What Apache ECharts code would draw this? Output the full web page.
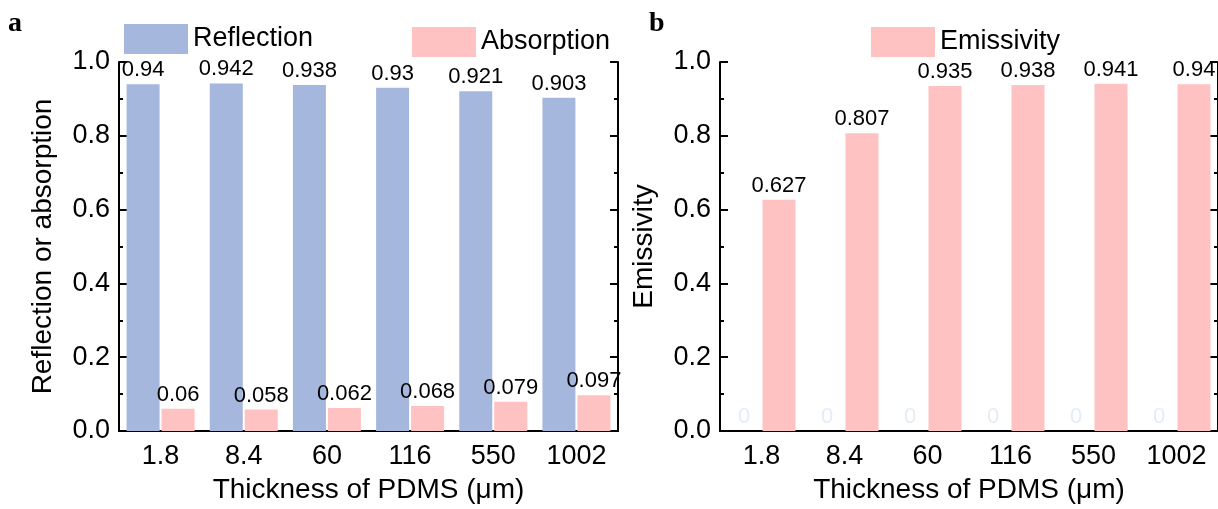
<!DOCTYPE html>
<html>
<head>
<meta charset="utf-8">
<script src="https://cdn.jsdelivr.net/npm/echarts@6/dist/echarts.min.js"></script>
<style>
html,body{margin:0;padding:0;background:#fff;}
#c{width:1218px;height:509px;}
</style>
</head>
<body>
<div id="c"></div>
<script>
const categories = ['1.8', '8.4', '60', '116', '550', '1002'];
const reflection = [0.94, 0.942, 0.938, 0.93, 0.921, 0.903];
const absorption = [0.06, 0.058, 0.062, 0.068, 0.079, 0.097];
const emissivity = [0.627, 0.807, 0.935, 0.938, 0.941, 0.94];
const hiddenZero = [0, 0, 0, 0, 0, 0];

const BLUE = '#a6b7dd';
const PINK = '#ffc2c2';
const FONT = 'Liberation Sans, Arial, sans-serif';

const chart = echarts.init(document.getElementById('c'), null, {renderer: 'canvas'});

function bottomX(gi) {
  return {
    type: 'category', gridIndex: gi, data: categories, position: 'bottom',
    axisLine: {show: true, lineStyle: {color: '#000', width: 2}},
    axisTick: {show: false},
    axisLabel: {color: '#000', fontSize: 27, fontFamily: FONT, margin: 12},
    name: 'Thickness of PDMS (μm)', nameLocation: 'middle', nameGap: 45,
    nameTextStyle: {color: '#000', fontSize: 28, fontFamily: FONT}
  };
}
function topX(gi) {
  return {
    type: 'category', gridIndex: gi, data: categories, position: 'top',
    axisLine: {show: true, lineStyle: {color: '#000', width: 2}},
    axisTick: {show: false}, axisLabel: {show: false}, splitLine: {show: false}
  };
}
function leftY(gi, name) {
  return {
    type: 'value', gridIndex: gi, min: 0, max: 1, interval: 0.2, position: 'left',
    axisLine: {show: true, lineStyle: {color: '#000', width: 2}},
    axisTick: {show: true, inside: true, length: 8, lineStyle: {color: '#000', width: 2}},
    minorTick: {show: true, splitNumber: 2, length: 4, lineStyle: {color: '#000', width: 2}},
    splitLine: {show: false},
    axisLabel: {color: '#000', fontSize: 27, fontFamily: FONT, margin: 9,
      formatter: v => v.toFixed(1)},
    name: name, nameLocation: 'middle', nameGap: 62,
    nameTextStyle: {color: '#000', fontSize: 28, fontFamily: FONT}
  };
}
function rightY(gi) {
  return {
    type: 'value', gridIndex: gi, min: 0, max: 1, interval: 0.2, position: 'right',
    axisLine: {show: true, lineStyle: {color: '#000', width: 2}},
    axisTick: {show: true, inside: true, length: 8, lineStyle: {color: '#000', width: 2}},
    minorTick: {show: true, splitNumber: 2, length: 4, lineStyle: {color: '#000', width: 2}},
    splitLine: {show: false}, axisLabel: {show: false}
  };
}
const dataLabel = {show: true, position: 'top', distance: 3, color: '#000', fontSize: 22, fontFamily: FONT};

const option = {
  animation: false,
  backgroundColor: '#fff',
  graphic: [
    {type: 'text', left: 8, top: 10, style: {text: 'a', font: 'bold 28px "Liberation Serif", "Times New Roman", serif', fill: '#000'}},
    {type: 'text', left: 649, top: 10, style: {text: 'b', font: 'bold 28px "Liberation Serif", "Times New Roman", serif', fill: '#000'}}
  ],
  legend: [
    {data: ['Reflection'], left: 119, top: 19, itemWidth: 64, itemHeight: 30, itemGap: 10,
      icon: 'rect', textStyle: {color: '#000', fontSize: 27, fontFamily: FONT}},
    {data: ['Absorption'], left: 407, top: 22, itemWidth: 64, itemHeight: 30, itemGap: 10,
      icon: 'rect', textStyle: {color: '#000', fontSize: 27, fontFamily: FONT}},
    {data: ['Emissivity'], left: 866, top: 22, itemWidth: 64, itemHeight: 30, itemGap: 10,
      icon: 'rect', textStyle: {color: '#000', fontSize: 27, fontFamily: FONT}}
  ],
  grid: [
    {left: 119, top: 62, width: 499, height: 375, containLabel: false},
    {left: 720, top: 62, width: 502, height: 375, containLabel: false}
  ],
  xAxis: [bottomX(0), topX(0), bottomX(1), topX(1)],
  yAxis: [leftY(0, 'Reflection or absorption'), rightY(0), leftY(1, 'Emissivity'), rightY(1)],
  series: [
    {name: 'Reflection', type: 'bar', xAxisIndex: 0, yAxisIndex: 0, data: reflection,
      barWidth: 33, barGap: '6%', itemStyle: {color: BLUE}, label: dataLabel},
    {name: 'Absorption', type: 'bar', xAxisIndex: 0, yAxisIndex: 0, data: absorption,
      barWidth: 33, barGap: '6%', itemStyle: {color: PINK}, label: dataLabel},
    {name: 'hidden', type: 'bar', xAxisIndex: 2, yAxisIndex: 2, data: hiddenZero,
      barWidth: 33, barGap: '6%', itemStyle: {color: 'rgba(0,0,0,0)'},
      label: Object.assign({}, dataLabel, {color: '#e3edf6'})},
    {name: 'Emissivity', type: 'bar', xAxisIndex: 2, yAxisIndex: 2, data: emissivity,
      barWidth: 33, barGap: '6%', itemStyle: {color: PINK}, label: dataLabel}
  ]
};
chart.setOption(option);
</script>
</body>
</html>
